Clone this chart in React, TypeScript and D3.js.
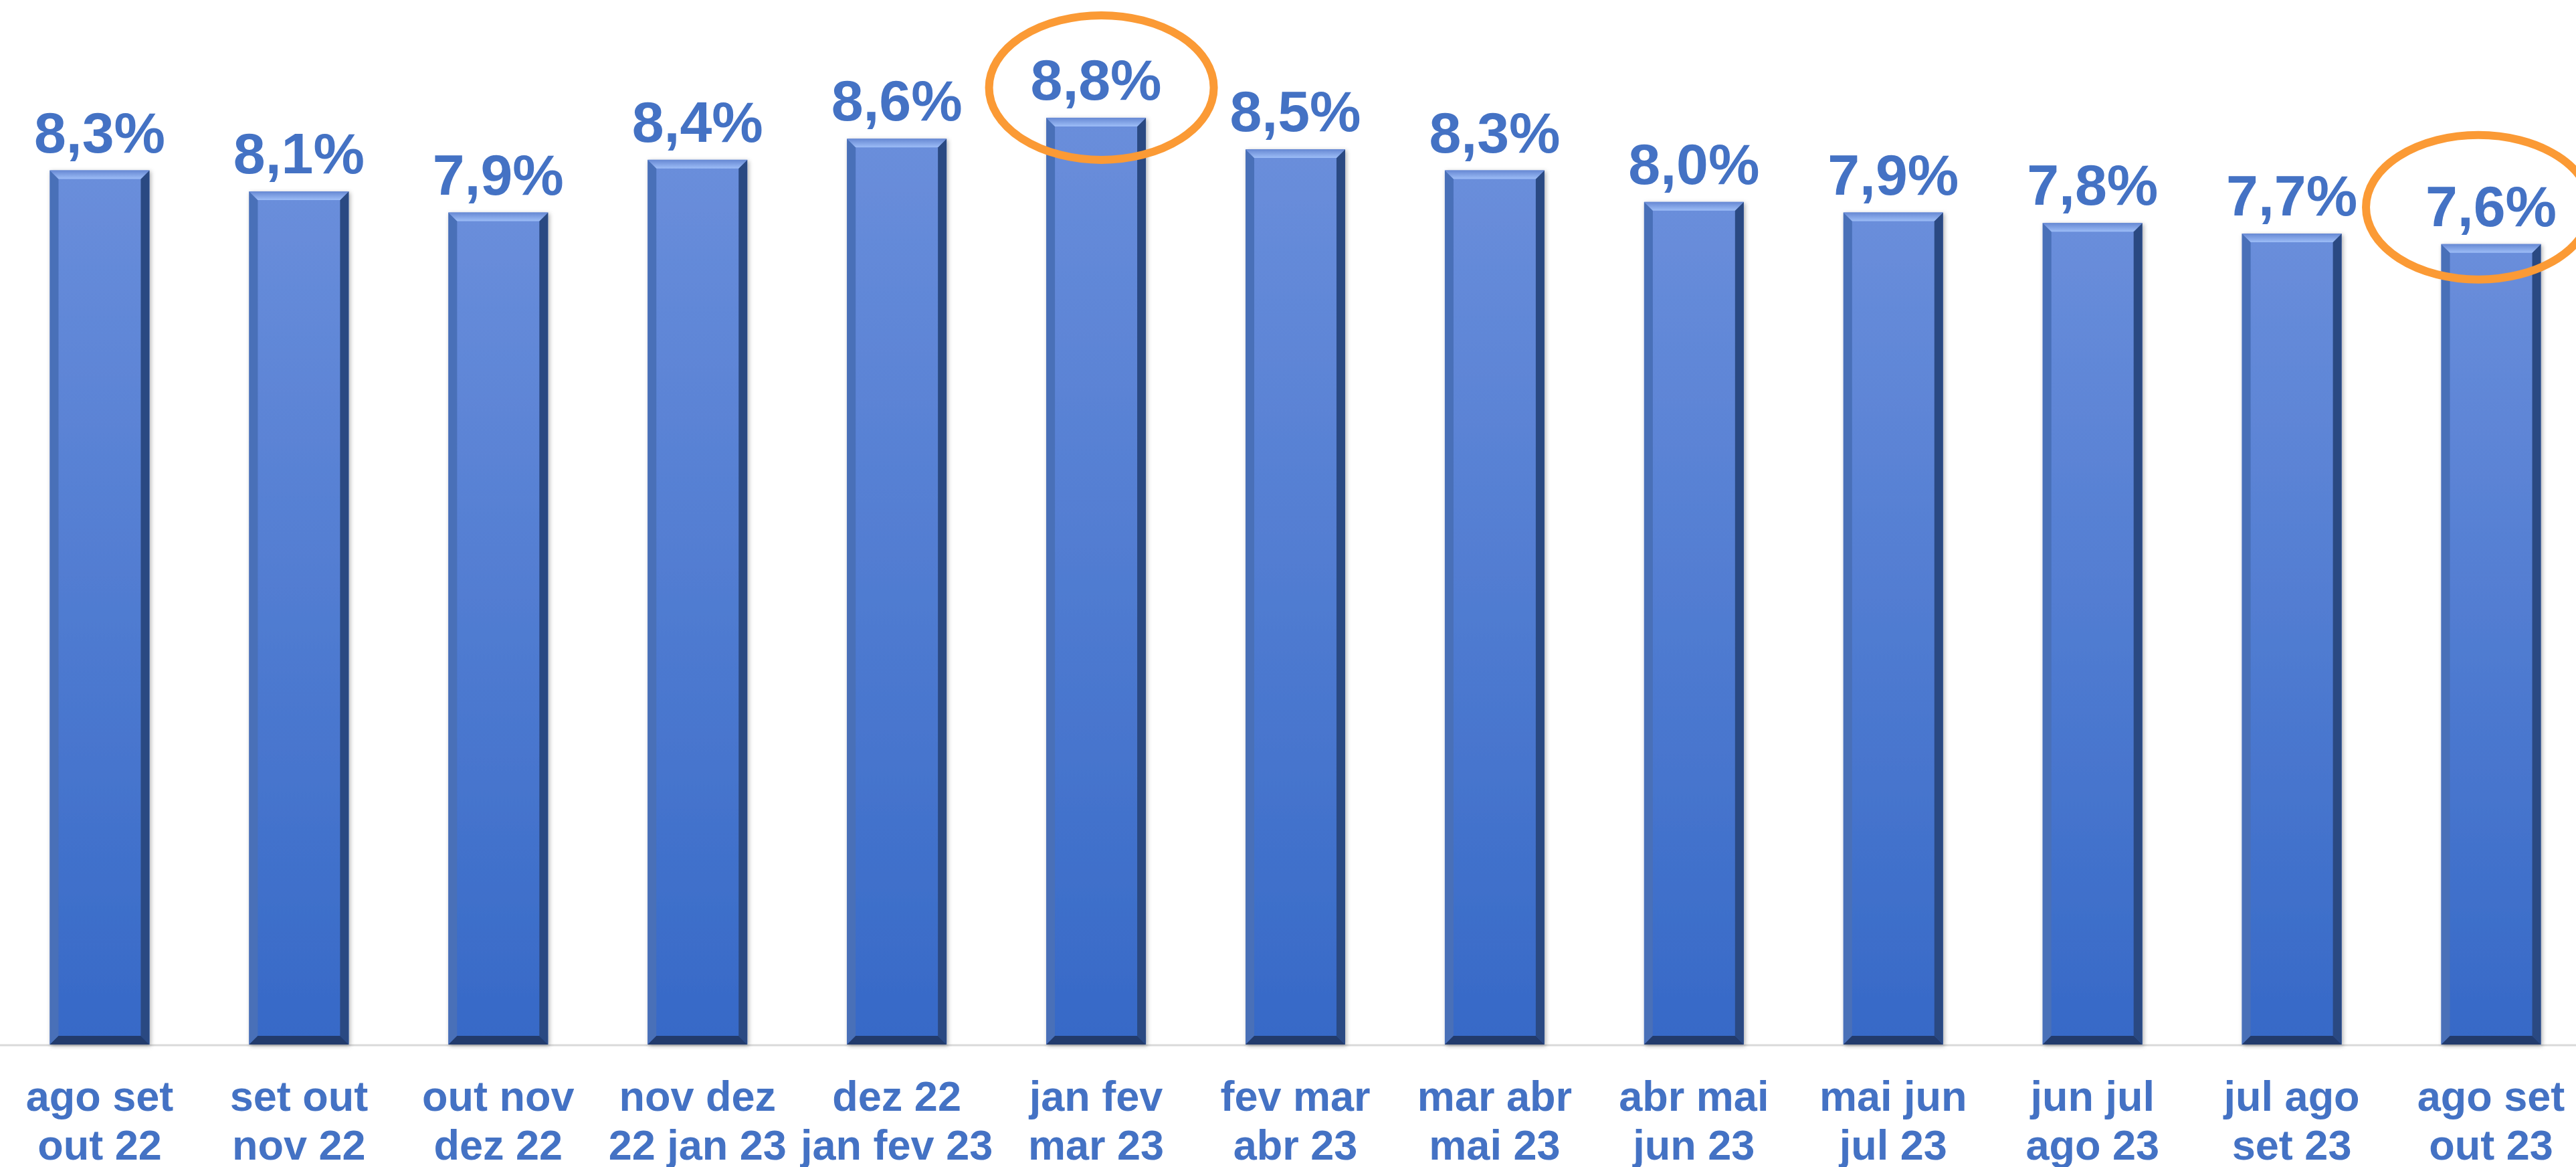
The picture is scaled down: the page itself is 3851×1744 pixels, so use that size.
import React, { useEffect, useRef } from "react";
import * as d3 from "d3";

const categories = [
  "ago set|out 22", "set out|nov 22", "out nov|dez 22", "nov dez|22 jan 23",
  "dez 22|jan fev 23", "jan fev|mar 23", "fev mar|abr 23", "mar abr|mai 23",
  "abr mai|jun 23", "mai jun|jul 23", "jun jul|ago 23", "jul ago|set 23", "ago set|out 23",
];
const values = [8.3, 8.1, 7.9, 8.4, 8.6, 8.8, 8.5, 8.3, 8.0, 7.9, 7.8, 7.7, 7.6];
// bars circled in orange
const highlights = [
  { index: 5, dx: 8, dy: -45 },
  { index: 12, dx: -19, dy: -55 },
];

const W = 3851;
const H = 1744;
const BLUE = "#4472C4";

export default function App() {
  const ref = useRef<SVGSVGElement>(null);

  useEffect(() => {
    const svg = d3.select(ref.current);
    svg.selectAll("*").remove();

    const base = 1561;
    const x = d3.scaleBand<number>()
      .domain(d3.range(values.length))
      .range([0, 3873])
      .paddingInner(0.5)
      .paddingOuter(0.25);
    const y = d3.scaleLinear().domain([0, 10]).range([base, base - 1574]);

    const defs = svg.append("defs");
    const g1 = defs.append("linearGradient").attr("id", "barfill")
      .attr("x1", 0).attr("y1", 0).attr("x2", 0).attr("y2", 1);
    g1.append("stop").attr("offset", "0%").attr("stop-color", "#6a8edb");
    g1.append("stop").attr("offset", "100%").attr("stop-color", "#3669c7");
    const g2 = defs.append("linearGradient").attr("id", "topbevel")
      .attr("x1", 0).attr("y1", 0).attr("x2", 0).attr("y2", 1);
    g2.append("stop").attr("offset", "0%").attr("stop-color", "#6688d3");
    g2.append("stop").attr("offset", "100%").attr("stop-color", "#9dbdf7");
    const sh = defs.append("filter").attr("id", "shadow")
      .attr("x", "-20%").attr("y", "-5%").attr("width", "140%").attr("height", "110%");
    sh.append("feDropShadow").attr("dx", 2).attr("dy", 2).attr("stdDeviation", 3)
      .attr("flood-color", "#000").attr("flood-opacity", 0.3);

    // axis line
    svg.append("line")
      .attr("x1", 0).attr("x2", W)
      .attr("y1", base + 1).attr("y2", base + 1)
      .attr("stroke", "#d9d9d9").attr("stroke-width", 3);

    const bw = x.bandwidth();
    const b = 13;
    const bars = svg.selectAll("g.bar")
      .data(values)
      .enter()
      .append("g")
      .attr("class", "bar")
      .attr("filter", "url(#shadow)");

    bars.append("rect")
      .attr("x", (d, i) => x(i)!)
      .attr("y", d => y(d))
      .attr("width", bw)
      .attr("height", d => base - y(d))
      .attr("fill", "url(#barfill)");

    const poly = (pts: number[][]) => pts.map(p => p.join(",")).join(" ");
    // left bevel
    bars.append("polygon")
      .attr("points", (d, i) => {
        const l = x(i)!, t = y(d);
        return poly([[l, t], [l + b, t + b], [l + b, base - b], [l, base]]);
      })
      .attr("fill", "#4a6fb8");
    // right bevel
    bars.append("polygon")
      .attr("points", (d, i) => {
        const r = x(i)! + bw, t = y(d);
        return poly([[r, t], [r - b, t + b], [r - b, base - b], [r, base]]);
      })
      .attr("fill", "#2c4a82");
    // bottom bevel
    bars.append("polygon")
      .attr("points", (d, i) => {
        const l = x(i)!, r = l + bw;
        return poly([[l, base], [l + b, base - b], [r - b, base - b], [r, base]]);
      })
      .attr("fill", "#213a6c");
    // top bevel
    bars.append("polygon")
      .attr("points", (d, i) => {
        const l = x(i)!, r = l + bw, t = y(d);
        return poly([[l, t], [r, t], [r - b, t + b], [l + b, t + b]]);
      })
      .attr("fill", "url(#topbevel)");

    // value labels
    svg.selectAll("text.val")
      .data(values)
      .enter()
      .append("text")
      .attr("class", "val")
      .attr("x", (d, i) => x(i)! + bw / 2)
      .attr("y", d => y(d) - 27)
      .attr("text-anchor", "middle")
      .attr("font-family", "'Liberation Sans', Arial, sans-serif")
      .attr("font-weight", "bold")
      .attr("font-size", 86)
      .attr("fill", BLUE)
      .text(d => d.toFixed(1).replace(".", ",") + "%");

    // category labels
    const cat = svg.selectAll("text.cat")
      .data(categories)
      .enter()
      .append("text")
      .attr("class", "cat")
      .attr("text-anchor", "middle")
      .attr("font-family", "'Liberation Sans', Arial, sans-serif")
      .attr("font-weight", "bold")
      .attr("font-size", 63)
      .attr("fill", BLUE);
    cat.each(function (d, i) {
      const t = d3.select(this);
      d.split("|").forEach((line, k) => {
        t.append("tspan")
          .attr("x", x(i)! + bw / 2)
          .attr("y", 1660 + k * 73)
          .text(line);
      });
    });

    // orange ellipses
    svg.selectAll("ellipse.hl")
      .data(highlights)
      .enter()
      .append("ellipse")
      .attr("class", "hl")
      .attr("cx", h => x(h.index)! + bw / 2 + h.dx)
      .attr("cy", h => y(values[h.index]) + h.dy)
      .attr("rx", 168)
      .attr("ry", 108)
      .attr("fill", "none")
      .attr("stroke", "#fb9a35")
      .attr("stroke-width", 12);
  }, []);

  return (
    <svg
      ref={ref}
      width={W}
      height={H}
      style={{ position: "absolute", left: 0, top: 0, background: "#fff" }}
    />
  );
}
